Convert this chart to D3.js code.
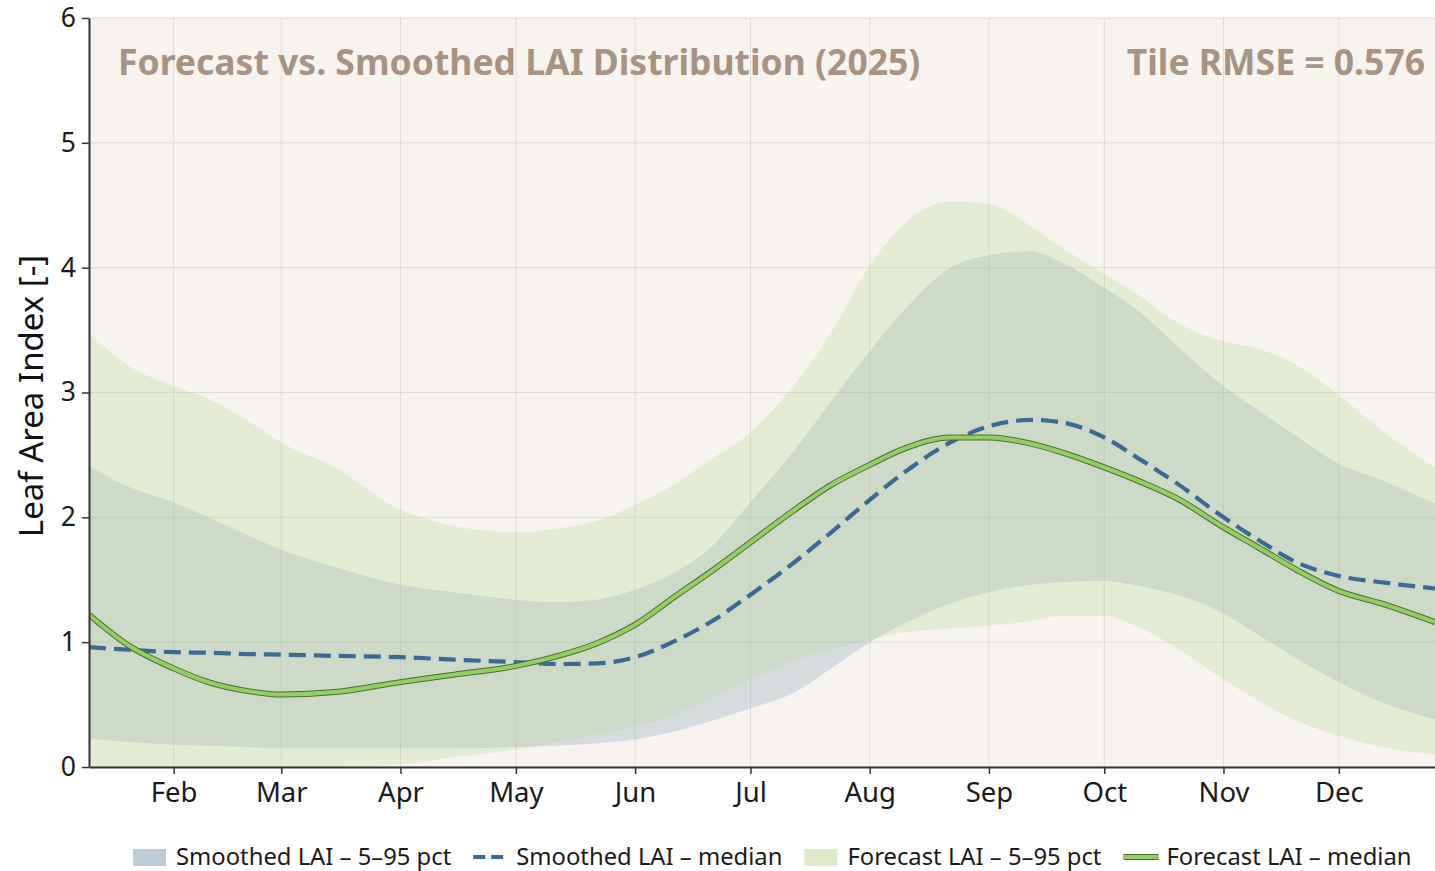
<!DOCTYPE html>
<html>
<head>
<meta charset="utf-8">
<script src="https://cdn.jsdelivr.net/npm/d3@7"></script>
<style>
  html, body { margin: 0; padding: 0; background: #ffffff; }
  svg { display: block; }
  text { font-family: "Noto Sans", "Open Sans", sans-serif; }
</style>
</head>
<body>
<svg id="chart" width="1435" height="871"></svg>
<script>
// ---------------- data ----------------
const dates = ["2025-01-10","2025-01-20","2025-02-01","2025-02-10","2025-02-20","2025-03-01","2025-03-15",
  "2025-04-01","2025-04-15","2025-05-01","2025-05-12","2025-05-22","2025-06-01","2025-06-12","2025-06-20",
  "2025-07-01","2025-07-12","2025-07-22","2025-08-01","2025-08-10","2025-08-22","2025-09-01","2025-09-12",
  "2025-09-20","2025-10-01","2025-10-10","2025-10-20","2025-11-01","2025-11-10","2025-11-20","2025-12-01",
  "2025-12-12","2025-12-26"];

const smoothedLow  = [0.23,0.20,0.18,0.17,0.16,0.15,0.15,0.15,0.15,0.16,0.17,0.19,0.22,0.29,0.36,
  0.47,0.59,0.79,1.00,1.15,1.31,1.40,1.46,1.48,1.49,1.45,1.38,1.23,1.06,0.87,0.68,0.52,0.38];
const smoothedHigh = [2.41,2.25,2.12,2.00,1.86,1.74,1.60,1.46,1.40,1.34,1.32,1.34,1.42,1.57,1.74,
  2.12,2.52,2.93,3.33,3.66,4.00,4.10,4.13,4.04,3.84,3.65,3.37,3.05,2.86,2.65,2.43,2.30,2.11];
const smoothedMedian = [0.96,0.94,0.92,0.915,0.905,0.90,0.89,0.88,0.86,0.84,0.825,0.83,0.88,1.02,1.15,
  1.38,1.63,1.88,2.14,2.36,2.60,2.73,2.78,2.76,2.64,2.47,2.27,2.00,1.82,1.64,1.53,1.48,1.43];

const forecastLow  = [0.0,0.0,0.0,0.0,0.0,0.0,0.0,0.02,0.08,0.14,0.20,0.26,0.32,0.43,0.54,
  0.70,0.85,0.94,1.02,1.08,1.11,1.13,1.17,1.21,1.21,1.12,0.95,0.70,0.53,0.37,0.25,0.16,0.10];
const forecastHigh = [3.47,3.22,3.05,2.95,2.78,2.60,2.40,2.06,1.93,1.88,1.91,1.97,2.10,2.28,2.45,
  2.68,3.05,3.48,4.02,4.35,4.53,4.51,4.33,4.16,3.95,3.78,3.56,3.41,3.35,3.22,2.98,2.70,2.40];
const forecastMedian = [1.22,0.98,0.79,0.68,0.61,0.58,0.60,0.68,0.74,0.81,0.89,0.99,1.14,1.38,1.55,
  1.80,2.05,2.26,2.42,2.55,2.64,2.64,2.59,2.52,2.40,2.29,2.15,1.92,1.76,1.58,1.41,1.31,1.16];

const yTicks = [0,1,2,3,4,5,6];
const titleText = "Forecast vs. Smoothed LAI Distribution (2025)";
const rmseText = "Tile RMSE = 0.576";
const yLabel = "Leaf Area Index [-]";
const legendLabels = ["Smoothed LAI \u2013 5\u201395 pct","Smoothed LAI \u2013 median","Forecast LAI \u2013 5\u201395 pct","Forecast LAI \u2013 median"];

// ---------------- layout ----------------
const svg = d3.select("#chart");
const L = 89, R = 1435, T = 18, B = 767;
const parse = d3.timeParse("%Y-%m-%d");
const D = dates.map(parse);

const x = d3.scaleTime().domain([parse("2025-01-10"), parse("2025-12-26")]).range([L, R]);
const y = d3.scaleLinear().domain([0, 6]).range([B, T]);

svg.append("rect").attr("x", L).attr("y", T).attr("width", R - L).attr("height", B - T).attr("fill", "#f7f4ef");

svg.append("defs").append("clipPath").attr("id", "clip")
  .append("rect").attr("x", L).attr("y", T).attr("width", R - L).attr("height", B - T);

// grid
const monthTicks = d3.timeMonth.range(parse("2025-02-01"), parse("2025-12-02"));
const grid = svg.append("g");
grid.selectAll("line.v").data(monthTicks).join("line")
  .attr("x1", d => x(d)).attr("x2", d => x(d)).attr("y1", T).attr("y2", B)
  .attr("stroke", "#e0dbd3").attr("stroke-width", 1);
grid.selectAll("line.h").data(yTicks).join("line")
  .attr("x1", L).attr("x2", R).attr("y1", d => y(d)).attr("y2", d => y(d))
  .attr("stroke", "#e0dbd3").attr("stroke-width", 1);

const plot = svg.append("g").attr("clip-path", "url(#clip)");
const idx = d3.range(D.length);
const curve = d3.curveMonotoneX;

const area = (lo, hi) => d3.area().curve(curve).x(i => x(D[i])).y0(i => y(lo[i])).y1(i => y(hi[i]));
const line = (v) => d3.line().curve(curve).x(i => x(D[i])).y(i => y(v[i]));

const smFill = "#96aebf", smOp = 0.34;
const fcFill = "#b0d488", fcOp = 0.26;

plot.append("path").datum(idx).attr("d", area(smoothedLow, smoothedHigh)).attr("fill", smFill).attr("fill-opacity", smOp);
plot.append("path").datum(idx).attr("d", area(forecastLow, forecastHigh)).attr("fill", fcFill).attr("fill-opacity", fcOp);

plot.append("path").datum(idx).attr("d", line(smoothedMedian))
  .attr("fill", "none").attr("stroke", "#3a6993").attr("stroke-width", 4.2).attr("stroke-dasharray", "17,8");

plot.append("path").datum(idx).attr("d", line(forecastMedian))
  .attr("fill", "none").attr("stroke", "#4a6b35").attr("stroke-width", 6);
plot.append("path").datum(idx).attr("d", line(forecastMedian))
  .attr("fill", "none").attr("stroke", "#93cf62").attr("stroke-width", 4);

// axes
const xAxis = svg.append("g").attr("transform", `translate(0,${B})`)
  .call(d3.axisBottom(x).tickValues(monthTicks).tickFormat(d3.timeFormat("%b")).tickSize(7).tickSizeOuter(0));
xAxis.select(".domain").attr("stroke", "#333").attr("stroke-width", 2);
xAxis.selectAll(".tick line").attr("stroke", "#333").attr("stroke-width", 1.5);
xAxis.selectAll(".tick text").attr("font-size", 27.5).attr("fill", "#1a1a1a").attr("dy", "0.9em")
  .style("font-family", "'Noto Sans', sans-serif");

const yAxis = svg.append("g").attr("transform", `translate(${L},0)`)
  .call(d3.axisLeft(y).tickValues(yTicks).tickFormat(d3.format("d")).tickSize(7).tickSizeOuter(0));
yAxis.select(".domain").attr("stroke", "#333").attr("stroke-width", 2);
yAxis.selectAll(".tick line").attr("stroke", "#333").attr("stroke-width", 1.5);
yAxis.selectAll(".tick text").attr("font-size", 26.5).attr("fill", "#1a1a1a").attr("x", -13)
  .style("font-family", "'Noto Sans', sans-serif");

svg.append("text").attr("transform", `translate(43,396) rotate(-90)`)
  .attr("text-anchor", "middle").attr("font-size", 33).attr("fill", "#111").text(yLabel);

// titles
svg.append("text").attr("x", 118).attr("y", 75).attr("font-size", 35.5).attr("font-weight", "bold")
  .attr("fill", "#a89282").text(titleText);
svg.append("text").attr("x", 1425).attr("y", 75).attr("text-anchor", "end").attr("font-size", 35.5).attr("font-weight", "bold")
  .attr("fill", "#a89282").text(rmseText);

// legend
const lg = svg.append("g").attr("transform", "translate(133,857)");
let cx = 0;
legendLabels.forEach((lab, i) => {
  const g = lg.append("g").attr("transform", `translate(${cx},0)`);
  if (i === 0) g.append("rect").attr("x", 0).attr("y", -8).attr("width", 33).attr("height", 17).attr("fill", "#bccbd9");
  if (i === 2) g.append("rect").attr("x", 0).attr("y", -8).attr("width", 33).attr("height", 17).attr("fill", "#ddebcb");
  if (i === 1) g.append("line").attr("x1", 0).attr("x2", 33).attr("y1", 0).attr("y2", 0)
    .attr("stroke", "#3a6993").attr("stroke-width", 4.2).attr("stroke-dasharray", "12,6");
  if (i === 3) {
    g.append("line").attr("x1", 0).attr("x2", 35).attr("y1", 0).attr("y2", 0).attr("stroke", "#4a6b35").attr("stroke-width", 6);
    g.append("line").attr("x1", 0.5).attr("x2", 34.5).attr("y1", 0).attr("y2", 0).attr("stroke", "#93cf62").attr("stroke-width", 4);
  }
  const t = g.append("text").attr("x", 43).attr("y", 0).attr("dy", "0.35em").attr("font-size", 23.8).attr("fill", "#1a1a1a").text(lab);
  const w = t.node().getComputedTextLength();
  cx += 43 + w + 22;
});
</script>
</body>
</html>
